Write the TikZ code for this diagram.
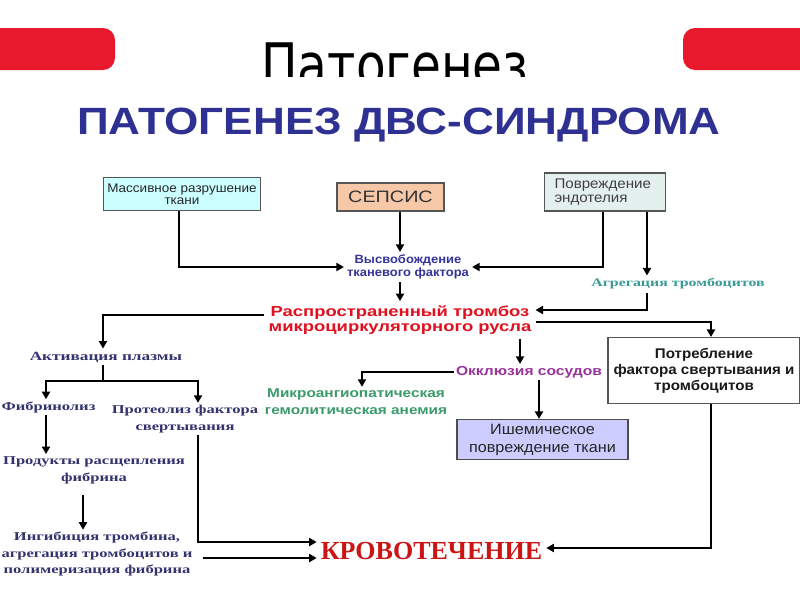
\documentclass[tikz,border=0pt]{standalone}
\usepackage{fontspec}
\usetikzlibrary{arrows.meta}
\setmainfont{Liberation Serif}
\newfontfamily\fDeja{DejaVu Sans}[FakeStretch=0.81]
\newfontfamily\fSans{Liberation Sans}[FakeStretch=1.08]
\newfontfamily\fSansW{Liberation Sans}[FakeStretch=1.2]
\newfontfamily\fSansT{Liberation Sans}[FakeStretch=1.27]
\newfontfamily\fTitle{Liberation Sans}[FakeStretch=1.16]
\newfontfamily\fSerifW{Liberation Serif}[FakeStretch=1.38]
\newfontfamily\fSerif{Liberation Serif}
\definecolor{redbar}{HTML}{E8192C}
\definecolor{titleblue}{HTML}{2E3192}
\definecolor{massfill}{HTML}{CCFFFF}
\definecolor{sepsfill}{HTML}{F7C8A8}
\definecolor{povrfill}{HTML}{E3F0EE}
\definecolor{ischfill}{HTML}{CCCCFF}
\definecolor{vysblue}{HTML}{333399}
\definecolor{trombred}{HTML}{E0101E}
\definecolor{agrteal}{HTML}{3A9A95}
\definecolor{navy}{HTML}{33336E}
\definecolor{okklpurple}{HTML}{993399}
\definecolor{microgreen}{HTML}{3A9A6A}
\definecolor{krovred}{HTML}{CC1414}
\definecolor{boxline}{HTML}{555555}
\tikzset{
  box/.style={draw=boxline, line width=1.1pt, inner sep=0pt, align=center},
  lbl/.style={inner sep=3pt, align=center},
  ln/.style={line width=2.7pt, black},
  arr/.style={line width=2.7pt, black, -{Triangle[length=7.5pt,width=8pt]}},
}
\begin{document}
\begin{tikzpicture}[x=1pt,y=-1pt]
\useasboundingbox (0,0) rectangle (800,600);
\fill[white] (0,0) rectangle (800,600);
% red bars
\fill[redbar, rounded corners=12pt] (-20,28) rectangle (115,70);
\fill[redbar, rounded corners=12pt] (683,28) rectangle (820,70);
% clipped top title
\begin{scope}
\clip (0,0) rectangle (800,76);
\node[anchor=base, inner sep=0pt, font=\fDeja\fontsize{60}{60}\selectfont] (title) at (395,86) {Патогенез};
\end{scope}
\node[anchor=base, inner sep=0pt, text=titleblue, font=\fTitle\bfseries\fontsize{38}{38}\selectfont] (subtitle) at (399,134) {ПАТОГЕНЕЗ ДВС-СИНДРОМА};

% top boxes
\node[box, fill=massfill, minimum width=157pt, minimum height=33pt, font=\fSans\fontsize{12.5}{12}\selectfont, text=black!85] (mass) at (182,194) {Массивное разрушение\\ткани};
\node[box, fill=sepsfill, minimum width=107pt, minimum height=28pt, font=\fSansW\fontsize{16.5}{16.5}\selectfont, text=black!80] (sepsis) at (390.5,197) {СЕПСИС};
\node[box, fill=povrfill, minimum width=121pt, minimum height=38pt, font=\fSans\fontsize{14}{14}\selectfont, text=black!75, align=left, text width=101pt] (povr) at (605,192) {Повреждение\\эндотелия};

% labels
\node[lbl, text=vysblue, font=\fSans\bfseries\fontsize{12}{12.5}\selectfont] (vys) at (408,267) {Высвобождение\\тканевого фактора};
\node[lbl, text=agrteal, font=\fSerifW\bfseries\fontsize{11.5}{12}\selectfont] (agr) at (678,284) {Агрегация тромбоцитов};
\node[lbl, inner sep=4pt, text=trombred, font=\fSansT\bfseries\fontsize{14.5}{15.5}\selectfont] (tromb) at (400,320) {Распространенный тромбоз\\микроциркуляторного русла};
\node[lbl, text=navy, font=\fSerifW\bfseries\fontsize{12.5}{12}\selectfont] (akt) at (106,357) {Активация плазмы};
\node[lbl, inner sep=2pt, text=okklpurple, font=\fSansW\bfseries\fontsize{13}{13}\selectfont] (okkl) at (529,372) {Окклюзия сосудов};
\node[lbl, inner sep=2pt, text=microgreen, font=\fSansW\bfseries\fontsize{12.8}{17}\selectfont] (micro) at (356,402) {Микроангиопатическая\\гемолитическая анемия};
\node[box, fill=ischfill, draw=black!70, minimum width=171pt, minimum height=40pt, font=\fSans\fontsize{15}{18}\selectfont, text=black!85] (isch) at (542.5,439.5) {Ишемическое\\повреждение ткани};
\node[box, fill=white, minimum width=192pt, minimum height=66pt, font=\fSans\bfseries\fontsize{14}{16}\selectfont, text=black!90] (potr) at (704,370.5) {Потребление\\фактора свертывания и\\тромбоцитов};
\node[lbl, inner sep=2pt, text=navy, font=\fSerifW\bfseries\fontsize{12}{12}\selectfont] (fib) at (48.5,407) {Фибринолиз};
\node[lbl, inner sep=2pt, text=navy, font=\fSerifW\bfseries\fontsize{12}{17}\selectfont] (prot) at (185,419) {Протеолиз фактора\\свертывания};
\node[lbl, inner sep=2pt, text=navy, font=\fSerifW\bfseries\fontsize{12}{17}\selectfont] (prod) at (94,470) {Продукты расщепления\\фибрина};
\node[lbl, inner sep=2pt, text=navy, font=\fSerifW\bfseries\fontsize{12}{16.5}\selectfont] (ing) at (97,554) {Ингибиция тромбина,\\агрегация тромбоцитов и\\полимеризация фибрина};
\node[lbl, inner sep=4pt, text=krovred, font=\fSerif\bfseries\fontsize{26}{26}\selectfont] (krov) at (431.5,551) {КРОВОТЕЧЕНИЕ};

% guide coordinates
\coordinate (xv) at (400,0);
\coordinate (xp) at (603,0);
\coordinate (xa) at (647,0);
\coordinate (xr) at (711,0);
\coordinate (xo) at (520,0);
\coordinate (xm) at (362,0);
\coordinate (xi) at (539,0);
\coordinate (xf) at (46,0);
\coordinate (xq) at (198,0);
\coordinate (xg) at (83,0);
\coordinate (xb) at (179,0);
\coordinate (jn) at (103,381);

% connectors
\draw[arr] (mass.south -| xb) |- (vys.west);
\draw[arr] (sepsis.south -| xv) -- (vys.north -| xv);
\draw[arr] (povr.south -| xp) |- (vys.east);
\draw[arr] (povr.south -| xa) -- (agr.north -| xa);
\draw[arr] (agr.south -| xa) |- ([yshift=10pt]tromb.east);
\draw[arr] (vys.south -| xv) -- (tromb.north -| xv);
\draw[arr] ([yshift=-2pt]tromb.east) -| (potr.north -| xr);
\draw[arr] ([yshift=5pt]tromb.west) -| (akt.north -| jn);
\draw[arr] (tromb.south -| xo) -- (okkl.north -| xo);
\draw[arr] (okkl.west) -| (micro.north -| xm);
\draw[arr] (okkl.south -| xi) -- (isch.north -| xi);
\draw[arr] (potr.south -| xr) |- ([yshift=3pt]krov.east);
\draw[ln] (akt.south -| jn) -- (jn);
\draw[arr] (jn) -| (fib.north -| xf);
\draw[arr] (jn) -| (prot.north -| xq);
\draw[arr] (fib.south -| xf) -- (prod.north -| xf);
\draw[arr] ([yshift=-9pt]prod.south -| xg) -- (ing.north -| xg);
\draw[arr] (prot.south -| xq) |- ([yshift=9pt]krov.west);
\coordinate (ie) at ([xshift=8pt,yshift=-4pt]ing.east);
\draw[arr] (ie) -- (ie -| krov.west);
\end{tikzpicture}
\end{document}
